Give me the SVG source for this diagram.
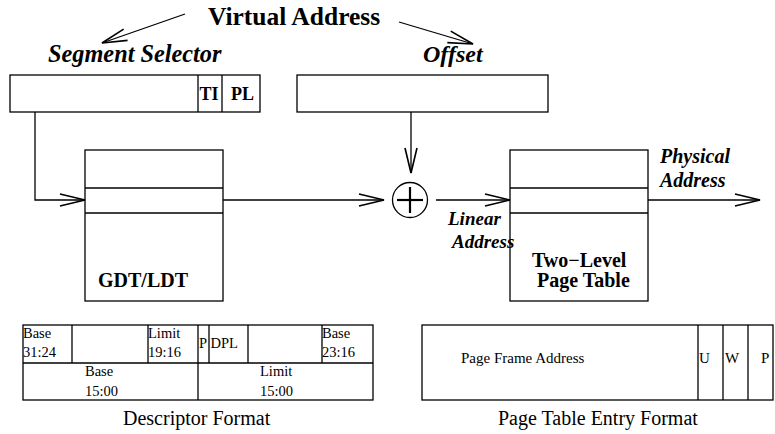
<svg xmlns="http://www.w3.org/2000/svg" width="775" height="434" viewBox="0 0 775 434">
  <style>
    .box { fill: #fff; stroke: #000; stroke-width: 1.3; }
    .ln { fill: none; stroke: #000; stroke-width: 1.3; }
    .arr { fill: none; stroke: #000; stroke-width: 1.3; marker-end: url(#open); }
    .t { font-family: "Liberation Serif", "Times New Roman", serif; fill: #000; }
    .b { font-weight: bold; }
    .bi { font-weight: bold; font-style: italic; }
  </style>
  <defs>
    <marker id="open" markerUnits="userSpaceOnUse" markerWidth="30" markerHeight="20" refX="0" refY="0" viewBox="-22 -8 24 16" orient="auto">
      <path d="M -20,-4.8 L 0,0 L -20,4.8" fill="none" stroke="#000" stroke-width="1.3"/>
    </marker>
  </defs>

  <!-- title and field labels -->
  <g id="virtual-address">
    <text class="t b" x="208" y="25" font-size="25.5">Virtual Address</text>
  </g>
  <g id="segment-selector">
    <text class="t bi" x="48" y="62" font-size="24.3">Segment Selector</text>
    <rect class="box" x="10" y="75" width="250" height="37"/>
    <line class="ln" x1="198" y1="75" x2="198" y2="112"/>
    <line class="ln" x1="222" y1="75" x2="222" y2="112"/>
    <text class="t b" x="199.5" y="100" font-size="18">TI</text>
    <text class="t b" x="231" y="100" font-size="18">PL</text>
  </g>
  <g id="offset">
    <text class="t bi" x="423" y="62" font-size="24">Offset</text>
    <rect class="box" x="297" y="75" width="251" height="37"/>
  </g>

  <!-- descriptor table -->
  <g id="gdt-ldt">
    <rect class="box" x="85" y="150" width="138" height="151"/>
    <line class="ln" x1="85" y1="188" x2="223" y2="188"/>
    <line class="ln" x1="85" y1="213" x2="223" y2="213"/>
    <text class="t b" x="98" y="287" font-size="20">GDT/LDT</text>
  </g>

  <!-- adder -->
  <g id="adder">
    <circle class="ln" cx="410" cy="200" r="17.5"/>
    <line x1="397" y1="200" x2="423" y2="200" stroke="#000" stroke-width="2.2"/>
    <line x1="410" y1="187" x2="410" y2="213" stroke="#000" stroke-width="2.2"/>
  </g>

  <!-- paging unit -->
  <g id="page-table">
    <rect class="box" x="510" y="150" width="138" height="151"/>
    <line class="ln" x1="510" y1="188" x2="648" y2="188"/>
    <line class="ln" x1="510" y1="213" x2="648" y2="213"/>
    <text class="t b" x="532" y="267" font-size="20">Two−Level</text>
    <text class="t b" x="537" y="287" font-size="20">Page Table</text>
  </g>

  <g id="linear-address-label">
    <text class="t bi" x="448" y="225" font-size="19">Linear</text>
    <text class="t bi" x="452" y="248" font-size="19">Address</text>
  </g>
  <g id="physical-address-label">
    <text class="t bi" x="660" y="163" font-size="20">Physical</text>
    <text class="t bi" x="660" y="187" font-size="20">Address</text>
  </g>

  <!-- connectors -->
  <g id="connectors">
    <path class="arr" d="M 185,14 L 102,43"/>
    <path class="arr" d="M 399,22 L 473,44"/>
    <path class="arr" d="M 35,112 L 35,200 L 85,200"/>
    <path class="arr" d="M 411,112 L 411,173"/>
    <path class="arr" d="M 223,200 L 384,200"/>
    <path class="arr" d="M 436,200 L 510,200"/>
    <path class="arr" d="M 648,200 L 760,200"/>
  </g>

  <!-- descriptor format -->
  <g id="descriptor-format">
    <rect class="box" x="23" y="325" width="350" height="75"/>
    <line class="ln" x1="23" y1="363" x2="373" y2="363"/>
    <line class="ln" x1="72" y1="325" x2="72" y2="363"/>
    <line class="ln" x1="148" y1="325" x2="148" y2="363"/>
    <line class="ln" x1="198" y1="325" x2="198" y2="400"/>
    <line class="ln" x1="209" y1="325" x2="209" y2="363"/>
    <line class="ln" x1="248" y1="325" x2="248" y2="363"/>
    <line class="ln" x1="322" y1="325" x2="322" y2="363"/>
    <g class="t" font-size="14.5">
      <text x="23" y="338">Base</text>
      <text x="23" y="357">31:24</text>
      <text x="148" y="338">Limit</text>
      <text x="148" y="357">19:16</text>
      <text x="199" y="348">P</text>
      <text x="210.5" y="348">DPL</text>
      <text x="322" y="338">Base</text>
      <text x="322" y="357">23:16</text>
      <text x="85" y="376">Base</text>
      <text x="85" y="396">15:00</text>
      <text x="260" y="376">Limit</text>
      <text x="260" y="396">15:00</text>
    </g>
    <text class="t" x="123" y="425" font-size="20">Descriptor Format</text>
  </g>

  <!-- page table entry format -->
  <g id="pte-format">
    <rect class="box" x="422" y="325" width="351" height="75"/>
    <line class="ln" x1="698" y1="325" x2="698" y2="400"/>
    <line class="ln" x1="723" y1="325" x2="723" y2="400"/>
    <line class="ln" x1="748" y1="325" x2="748" y2="400"/>
    <g class="t" font-size="15">
      <text x="461" y="363">Page Frame Address</text>
      <text x="699" y="363">U</text>
      <text x="725" y="363">W</text>
      <text x="761" y="363">P</text>
    </g>
    <text class="t" x="498" y="425" font-size="20">Page Table Entry Format</text>
  </g>
</svg>
